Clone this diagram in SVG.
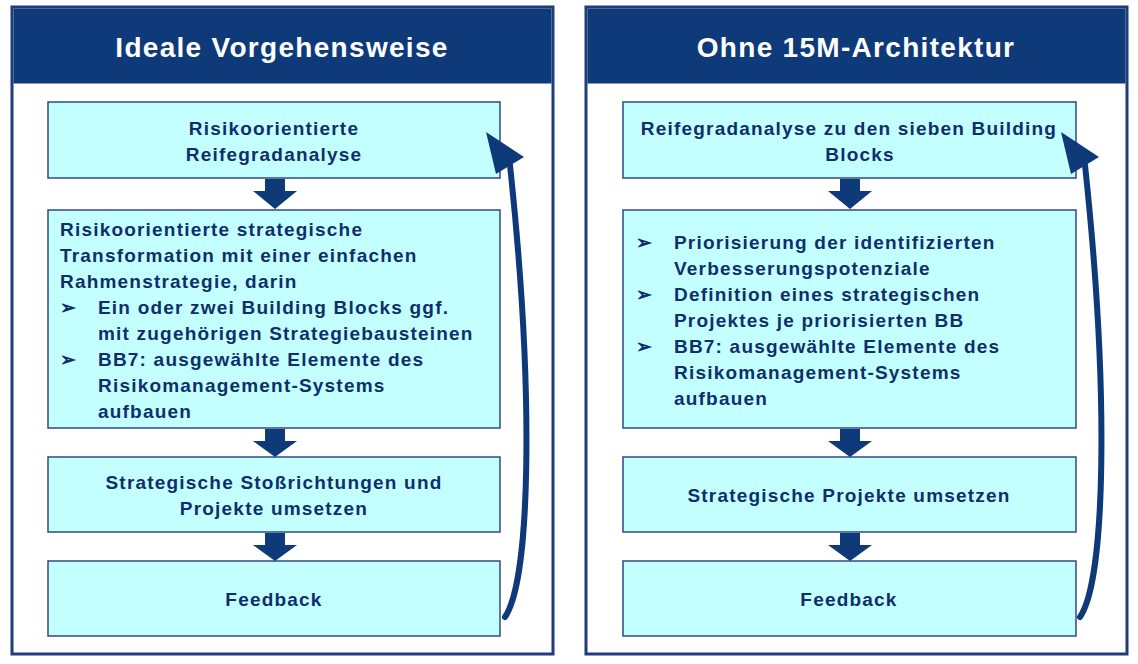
<svg xmlns="http://www.w3.org/2000/svg" width="1138" height="664" viewBox="0 0 1138 664">
<defs>
<style>
.panel{fill:#fff;stroke:#1f3d7d;stroke-width:3}
.hdr{fill:#0e3a7a}
.ttl{font-family:"Liberation Sans",Arial,sans-serif;font-weight:bold;font-size:28px;letter-spacing:1.3px;fill:#fff;text-anchor:middle}
.box{fill:#c4ffff;stroke:#2e4a86;stroke-width:1.5}
.t{font-family:"Liberation Sans",Arial,sans-serif;font-weight:bold;font-size:19px;letter-spacing:1.2px;fill:#0e2f6b}
.c{text-anchor:middle}
.ba{fill:#0e3a7a}
.curve{fill:none;stroke:#0e3a7a;stroke-width:6;stroke-linecap:round}
</style>
</defs>
<g id="panel-left">
<rect class="panel" x="12" y="7" width="541" height="647"/>
<rect class="hdr" x="13.5" y="8.5" width="538" height="75"/>
<text class="ttl" x="282" y="57">Ideale Vorgehensweise</text>
</g>
<g id="panel-right">
<rect class="panel" x="586" y="7" width="541" height="647"/>
<rect class="hdr" x="587.5" y="8.5" width="538" height="75"/>
<text class="ttl" x="856" y="57">Ohne 15M-Architektur</text>
</g>
<g id="l1"><rect class="box" x="48" y="102" width="452" height="76"/>
<text class="t c" x="274" y="135">Risikoorientierte</text><text class="t c" x="274" y="161">Reifegradanalyse</text></g>
<g id="l2"><rect class="box" x="48" y="210" width="452" height="218"/>
<text class="t" x="60" y="236">Risikoorientierte strategische</text>
<text class="t" x="60" y="262">Transformation mit einer einfachen</text>
<text class="t" x="60" y="288">Rahmenstrategie, darin</text>
<text class="t" x="60" y="314">➢</text><text class="t" x="98" y="314">Ein oder zwei Building Blocks ggf.</text>
<text class="t" x="98" y="340">mit zugehörigen Strategiebausteinen</text>
<text class="t" x="60" y="366">➢</text><text class="t" x="98" y="366">BB7: ausgewählte Elemente des</text>
<text class="t" x="98" y="392">Risikomanagement-Systems</text>
<text class="t" x="98" y="418">aufbauen</text></g>
<g id="l3"><rect class="box" x="48" y="457" width="452" height="75"/>
<text class="t c" x="274" y="489">Strategische Stoßrichtungen und</text><text class="t c" x="274" y="515">Projekte umsetzen</text></g>
<g id="l4"><rect class="box" x="48" y="561" width="452" height="75"/>
<text class="t c" x="274" y="606">Feedback</text></g>
<g id="r1"><rect class="box" x="623" y="102" width="453" height="76"/>
<text class="t c" x="849" y="135">Reifegradanalyse zu den sieben Building</text><text class="t c" x="860" y="161">Blocks</text></g>
<g id="r2"><rect class="box" x="623" y="210" width="453" height="218"/>
<text class="t" x="636" y="249">➢</text><text class="t" x="674" y="249">Priorisierung der identifizierten</text>
<text class="t" x="674" y="275">Verbesserungspotenziale</text>
<text class="t" x="636" y="301">➢</text><text class="t" x="674" y="301">Definition eines strategischen</text>
<text class="t" x="674" y="327">Projektes je priorisierten BB</text>
<text class="t" x="636" y="353">➢</text><text class="t" x="674" y="353">BB7: ausgewählte Elemente des</text>
<text class="t" x="674" y="379">Risikomanagement-Systems</text>
<text class="t" x="674" y="405">aufbauen</text></g>
<g id="r3"><rect class="box" x="623" y="457" width="453" height="75"/>
<text class="t c" x="849" y="502">Strategische Projekte umsetzen</text></g>
<g id="r4"><rect class="box" x="623" y="561" width="453" height="75"/>
<text class="t c" x="849" y="606">Feedback</text></g>
<g id="connectors">
<path class="ba" d="M265 179h20v12h12l-22 18-22-18h12z"/>
<path class="ba" d="M265 429h20v12h12l-22 16-22-16h12z"/>
<path class="ba" d="M265 533h20v12h12l-22 16-22-16h12z"/>
<path class="ba" d="M840 179h20v12h12l-22 18-22-18h12z"/>
<path class="ba" d="M840 429h20v12h12l-22 16-22-16h12z"/>
<path class="ba" d="M840 533h20v12h12l-22 16-22-16h12z"/>
<path class="curve" d="M505 617C530 580 535 400 510 165"/>
<path class="ba" d="M486 132L524 157L496 174Z"/>
<path class="curve" d="M1080 617C1105 580 1110 400 1085 165"/>
<path class="ba" d="M1061 132L1099 157L1071 174Z"/>
</g>
</svg>
